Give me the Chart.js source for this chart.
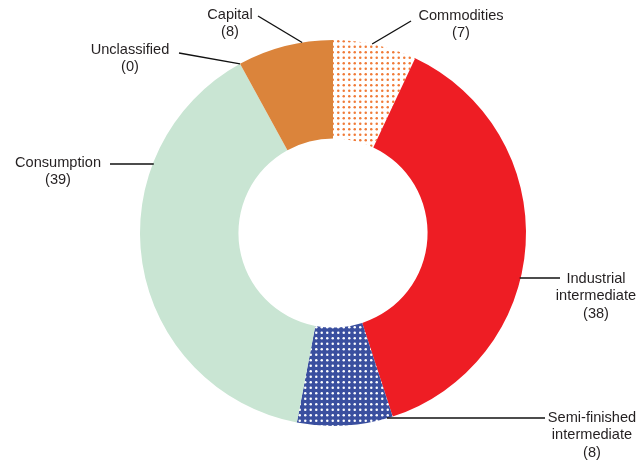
<!DOCTYPE html>
<html lang="en">
<head>
  <meta charset="UTF-8">
  <title>Exports by category</title>
  <script src="https://cdn.jsdelivr.net/npm/chart.js"></script>
  <style>
    html, body { margin: 0; padding: 0; background: #fff; }
    #wrap { width: 640px; height: 460px; }
  </style>
</head>
<body>
  <div id="wrap"><canvas id="donut" width="640" height="460"></canvas></div>

  <script>
    // data
    const categories = ['Commodities', 'Industrial intermediate', 'Semi-finished intermediate', 'Consumption', 'Unclassified', 'Capital'];
    const shares = [7, 38, 8, 39, 0, 8];

    // dotted fills (11px tile, 2x2 dots -> 5.5px pitch)
    function dots(bg, dot) {
      const c = document.createElement('canvas');
      c.width = 11; c.height = 11;
      const g = c.getContext('2d');
      g.fillStyle = bg;
      g.fillRect(0, 0, 11, 11);
      g.fillStyle = dot;
      [[2.75, 2.75], [8.25, 2.75], [2.75, 8.25], [8.25, 8.25]].forEach(p => {
        g.beginPath();
        g.arc(p[0], p[1], 1.25, 0, Math.PI * 2);
        g.fill();
      });
      return g.createPattern(c, 'repeat');
    }
    const ctx = document.getElementById('donut').getContext('2d');
    const fills = [
      dots('#ffffff', '#f07a36'),
      '#ee1d24',
      dots('#3a4f9f', '#ffffff'),
      '#c9e5d3',
      '#c9e5d3',
      '#db843b'
    ];

    // where each leader touches the ring (deg clockwise from top) and where its text sits
    const labelSpots = [
      { angle: 11.7, tx: 461, ty: 16, lineTo: [411, 21], lines: ['Commodities'] },
      { angle: 103, tx: 596, ty: 279, lineTo: [560, 278], lines: ['Industrial', 'intermediate'], horiz: true },
      { angle: 163.7, tx: 592, ty: 418, lineTo: [545, 418], lines: ['Semi-finished', 'intermediate'], horiz: true },
      { angle: 290.9, tx: 58, ty: 163, lineTo: [110, 164], lines: ['Consumption'], horiz: true },
      { angle: 331.2, tx: 130, ty: 50, lineTo: [179, 53], lines: ['Unclassified'] },
      { angle: 350.8, tx: 230, ty: 15, lineTo: [258, 16], lines: ['Capital'] }
    ];

    const leaderLabels = {
      id: 'leaderLabels',
      afterDraw(chart) {
        const arc = chart.getDatasetMeta(0).data[0];
        const cx = arc.x, cy = arc.y, r = arc.outerRadius;
        const c = chart.ctx;
        c.save();
        c.strokeStyle = '#111';
        c.lineWidth = 1.4;
        c.fillStyle = '#231f20';
        c.font = '14.6px "Liberation Sans", Arial, sans-serif';
        c.textAlign = 'center';
        c.textBaseline = 'middle';
        labelSpots.forEach((s, i) => {
          const a = s.angle * Math.PI / 180;
          let px = cx + r * Math.sin(a);
          let py = cy - r * Math.cos(a);
          if (s.horiz) {
            py = s.lineTo[1];
            const dx = Math.sqrt(Math.max(0, r * r - (py - cy) * (py - cy)));
            px = s.lineTo[0] > cx ? cx + dx - 1 : cx - dx + 1;
          }
          c.beginPath();
          c.moveTo(px, py);
          c.lineTo(s.lineTo[0], s.lineTo[1]);
          c.stroke();
          const text = s.lines.concat(['(' + shares[i] + ')']);
          text.forEach((t, k) => c.fillText(t, s.tx, s.ty + k * 17.3));
        });
        c.restore();
      }
    };

    new Chart(ctx, {
      type: 'doughnut',
      data: {
        labels: categories,
        datasets: [{
          data: shares,
          backgroundColor: fills,
          borderWidth: 0
        }]
      },
      options: {
        responsive: false,
        animation: false,
        cutout: '49%',
        layout: { padding: { left: 140, right: 114, top: 40, bottom: 34 } },
        plugins: {
          legend: { display: false },
          tooltip: { enabled: false }
        }
      },
      plugins: [leaderLabels]
    });
  </script>
</body>
</html>
